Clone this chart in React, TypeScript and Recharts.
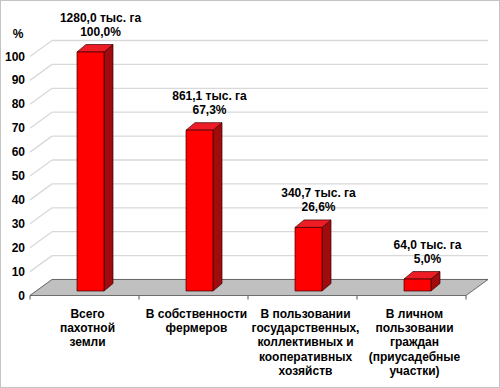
import React from "react"
import {
  BarChart,
  Bar,
  XAxis,
  YAxis,
  CartesianGrid,
  ReferenceArea,
  LabelList,
  Label,
} from "recharts"

// ── Data ─────────────────────────────────────────────
const categories = [
  "Всего\nпахотной\nземли",
  "В собственности\nфермеров",
  "В пользовании\nгосударственных,\nколлективных и\nкооперативных\nхозяйств",
  "В личном\nпользовании\nграждан\n(приусадебные\nучастки)",
]
const percents = [100.0, 67.3, 26.6, 5.0]
const areas = [1280.0, 861.1, 340.7, 64.0]
const yTicks = [0, 10, 20, 30, 40, 50, 60, 70, 80, 90, 100]

const data = categories.map((name, i) => ({
  name,
  pct: percents[i],
  area: areas[i],
}))

const FONT = '"Liberation Sans", Arial, sans-serif'
const fmt = (v: number) => v.toFixed(1).replace(".", ",")

// 3D offsets relative to the bar plane
const FRONT_DX = -6
const FRONT_DY = 4.5
const BACK_DX = 16
const BACK_DY = -11.5
const BOX_DX = 9
const BOX_DY = 7.5

// ── Pieces ───────────────────────────────────────────
function Box(props: any) {
  const { x, y, width, height } = props
  if (width == null || height == null) return null
  const r = x + width
  const b = y + height
  return (
    <g stroke="#3a0000" strokeWidth={0.7} strokeLinejoin="round">
      <polygon
        points={`${r},${y} ${r + BOX_DX},${y - BOX_DY} ${r + BOX_DX},${b - BOX_DY} ${r},${b}`}
        fill="#a00b0e"
      />
      <polygon
        points={`${x},${y} ${x + BOX_DX},${y - BOX_DY} ${r + BOX_DX},${y - BOX_DY} ${r},${y}`}
        fill="#ee1c25"
      />
      <rect x={x} y={y} width={width} height={height} fill="#ff0000" />
    </g>
  )
}

function Floor(props: any) {
  const { x, y, width, height } = props
  const bottom = y + height
  const fx0 = x + FRONT_DX
  const fx1 = x + width + FRONT_DX
  const fy = bottom + FRONT_DY
  const bx0 = x + BACK_DX
  const bx1 = x + width + BACK_DX
  const by = bottom + BACK_DY
  const step = width / categories.length
  return (
    <g>
      <polygon
        points={`${fx0},${fy} ${fx1},${fy} ${bx1},${by} ${bx0},${by}`}
        fill="#c0c0c0"
        stroke="#505050"
        strokeWidth={0.8}
      />
      {Array.from({ length: categories.length + 1 }).map((_, k) => (
        <line
          key={k}
          x1={fx0 + k * step}
          x2={fx0 + k * step}
          y1={fy}
          y2={fy + 4}
          stroke="#505050"
          strokeWidth={1}
        />
      ))}
    </g>
  )
}

function GridLine(props: any) {
  const { x1, x2, y1 } = props
  return (
    <g key={`g-${y1}`} stroke="#d9d9d9" strokeWidth={1.3}>
      <line x1={x1 + BACK_DX} y1={y1 + BACK_DY} x2={x2 + BACK_DX} y2={y1 + BACK_DY} />
      <line x1={x1 + FRONT_DX} y1={y1 + FRONT_DY} x2={x1 + BACK_DX} y2={y1 + BACK_DY} />
    </g>
  )
}

function YTick(props: any) {
  const { y, payload } = props
  return (
    <text
      x={25}
      y={y + FRONT_DY}
      textAnchor="end"
      dominantBaseline="central"
      fontFamily={FONT}
      fontSize={12}
      fontWeight="bold"
      fill="#000"
    >
      {payload.value}
    </text>
  )
}

function XTick(props: any) {
  const { x, y, payload } = props
  const lines = String(payload.value).split("\n")
  return (
    <text
      textAnchor="middle"
      fontFamily={FONT}
      fontSize={12}
      fontWeight="bold"
      fill="#000"
    >
      {lines.map((ln, i) => (
        <tspan
          key={i}
          x={x - 3}
          y={y + 23 + i * 14.2}
          dominantBaseline="central"
        >
          {ln}
        </tspan>
      ))}
    </text>
  )
}

function TopLabel(props: any) {
  const vb = props.viewBox ?? props
  const x = props.x ?? vb.x
  const y = props.y ?? vb.y
  const width = props.width ?? vb.width
  const index = props.index
  const cx = x + width / 2 + 10
  const common = {
    textAnchor: "middle" as const,
    dominantBaseline: "central" as const,
    fontFamily: FONT,
    fontSize: 12,
    fontWeight: "bold",
    fill: "#000",
  }
  return (
    <g>
      <text x={cx} y={y - 34} {...common}>
        {`${fmt(areas[index])} тыс. га`}
      </text>
      <text x={cx} y={y - 20} {...common}>
        {`${fmt(percents[index])}%`}
      </text>
    </g>
  )
}

export default function App() {
  return (
    <div
      style={{
        position: "absolute",
        left: 0,
        top: 0,
        width: 500,
        height: 388,
        background: "#fff",
      }}
    >
      <BarChart
        width={500}
        height={388}
        data={data}
        margin={{ top: 52, right: 28, left: 0, bottom: 0 }}
      >
        <CartesianGrid vertical={false} horizontal={GridLine} />
        <ReferenceArea y1={0} y2={1} ifOverflow="visible" shape={Floor} />
        <XAxis
          dataKey="name"
          height={97}
          axisLine={false}
          tickLine={false}
          tickSize={0}
          tickMargin={0}
          interval={0}
          tick={XTick}
        />
        <YAxis
          width={36}
          domain={[0, 100]}
          ticks={yTicks}
          axisLine={false}
          tickLine={false}
          tick={YTick}
        >
          <Label
            value="%"
            position="top"
            offset={14}
            style={{
              fontFamily: FONT,
              fontSize: 12,
              fontWeight: "bold",
              fill: "#000",
            }}
          />
        </YAxis>
        <Bar dataKey="pct" barSize={27} shape={Box} isAnimationActive={false}>
          <LabelList dataKey="pct" content={TopLabel} />
        </Bar>
      </BarChart>
      <div
        style={{
          position: "absolute",
          left: 0,
          top: 0,
          width: 500,
          height: 388,
          boxSizing: "border-box",
          border: "1px solid #c4c4c4",
          pointerEvents: "none",
        }}
      />
    </div>
  )
}
